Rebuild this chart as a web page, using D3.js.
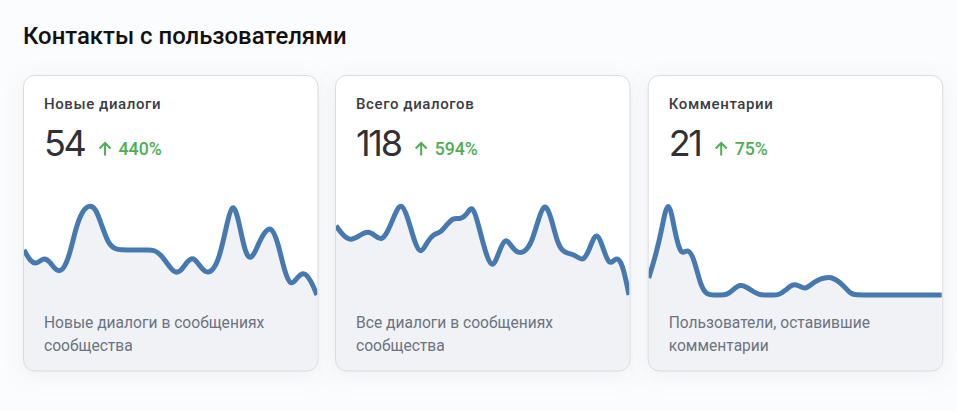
<!DOCTYPE html>
<html><head><meta charset="utf-8">
<script src="https://cdn.jsdelivr.net/npm/d3@7/dist/d3.min.js"></script>
<style>html,body{margin:0;padding:0;background:#fbfcfd;overflow:hidden}svg{display:block}</style>
</head><body><svg id="c" width="957" height="411"></svg>
<script>
const chartTitle = "Контакты с пользователями";
const cardTitles = ["Новые диалоги", "Всего диалогов", "Комментарии"];
const totals = ["54", "118", "21"];
const changes = ["440%", "594%", "75%"];
const captions = [
  ["Новые диалоги в сообщениях", "сообщества"],
  ["Все диалоги в сообщениях", "сообщества"],
  ["Пользователи, оставившие", "комментарии"]
];
const seriesDialogsNew = [50,37,34,42,37,26,27,44,76,94,100,97,76,56,51,50,50,50,50,50,50,45,35,25,25,37,43,32,24,27,41,73,106,83,44,39,57,71,76,59,26,9,20,26,17,0];
const seriesDialogsAll = [77,67,61,63,68,71,66,60,71,89,104,87,60,44,59,68,69,78,86,84,88,102,74,46,28,47,65,53,46,48,57,82,104,88,57,47,46,43,37,52,72,53,31,43,36,0];
const seriesComments = [19,42,72,112,70,42,53,40,9,0,0,0,0,6,12,9,4,0,0,0,0,5,12,11,6,12,17,19,20,16,10,1,0,0,0,0,0,0,0,0,0,0,0,0,0,0];
const allSeries = [seriesDialogsNew, seriesDialogsAll, seriesComments];

const W = 295, H = 296, cardX = [23, 335, 647.7], cardY = 75.5;
const svg = d3.select("#c");
const defs = svg.append("defs");
const f = defs.append("filter").attr("id","sh").attr("x","-15%").attr("y","-15%").attr("width","130%").attr("height","130%");
f.append("feDropShadow").attr("dx",0).attr("dy",4).attr("stdDeviation",10).attr("flood-color","#8a94a6").attr("flood-opacity",0.13);

svg.append("text").text(chartTitle).attr("x",23).attr("y",43.5)
  .attr("font-family","Roboto").attr("font-weight",500).attr("font-size",23.9).attr("fill","#111");

allSeries.forEach((vals,k)=>{
  const g = svg.append("g").attr("transform",`translate(${cardX[k]},${cardY})`);
  defs.append("clipPath").attr("id","clip"+k).append("rect").attr("x",0.5).attr("y",0.5).attr("width",W-1).attr("height",H-1).attr("rx",11);
  g.append("rect").attr("x",0.5).attr("y",0).attr("width",W-0.5).attr("height",H-0.5).attr("rx",11)
    .attr("fill","#fff").attr("filter","url(#sh)");
  const x = d3.scaleLinear().domain([0,vals.length-1]).range([1,W-1]);
  const y = d3.scaleLinear().domain([0,100]).range([219.5,129.5]);
  const inner = g.append("g").attr("clip-path",`url(#clip${k})`);
  const curve = d3.curveBasis;
  inner.append("path").datum(vals).attr("fill","#f0f2f6")
    .attr("d",d3.area().x((d,i)=>x(i)).y0(H).y1(d=>y(d)).curve(curve));
  inner.append("path").datum(vals).attr("fill","none").attr("stroke","#4679b0").attr("stroke-width",5)
    .attr("stroke-linejoin","round")
    .attr("d",d3.line().x((d,i)=>x(i)).y(d=>y(d)).curve(curve));
  g.append("rect").attr("x",0.5).attr("y",0).attr("width",W-0.5).attr("height",H-0.5).attr("rx",11)
    .attr("fill","none").attr("stroke","#d9dbdf");
  g.append("text").text(cardTitles[k]).attr("x",21).attr("y",33)
    .attr("font-family","Roboto").attr("font-weight",500).attr("font-size",15).attr("letter-spacing",0.6).attr("fill","#3b3d42");
  const num = g.append("text").text(totals[k]).attr("x",21).attr("y",80)
    .attr("font-family","Inter").attr("font-weight",400).attr("font-size",36).attr("letter-spacing",-2.3).attr("fill","#2f3135");
  const nw = num.node().getComputedTextLength();
  const ax = 21+nw+20.5;
  g.append("path").attr("d",`M${ax-5.5} 73 L${ax} 67.5 L${ax+5.5} 73 M${ax} 67.5 V80`)
    .attr("fill","none").attr("stroke","#4fae55").attr("stroke-width",2);
  g.append("text").text(changes[k]).attr("x",ax+13.5).attr("y",79.5)
    .attr("font-family","Roboto").attr("font-weight",500).attr("font-size",17.7).attr("fill","#4fae55");
  captions[k].forEach((t,j)=>g.append("text").text(t).attr("x",21).attr("y",252+j*23)
    .attr("font-family","Roboto").attr("font-size",15.6).attr("fill","#6c7280"));
});
</script></body></html>
